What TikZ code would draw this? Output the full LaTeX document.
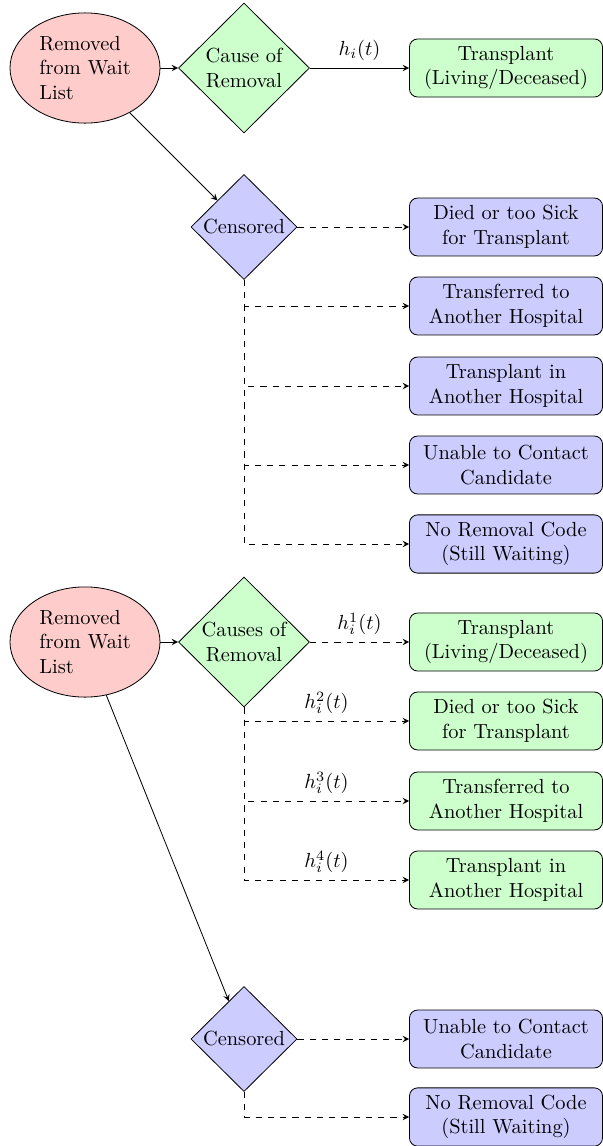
\documentclass[tikz,border=0pt]{standalone}
\usetikzlibrary{shapes.geometric}

\begin{document}
\begin{tikzpicture}[x=0.49pt, y=-0.49pt, >=stealth,
    startnode/.style={ellipse, draw, fill=red!20, align=left, inner sep=0pt,
        minimum width=73.5pt, minimum height=54pt},
    causenode/.style={diamond, draw, fill=green!20, align=center, inner sep=0pt,
        minimum width=64.2pt, minimum height=63.7pt},
    censnode/.style={diamond, draw, fill=blue!20, inner sep=0pt,
        minimum width=52pt, minimum height=51.5pt},
    outbox/.style={rectangle, draw, rounded corners, text width=86pt, align=center,
        inner xsep=4.3pt, inner ysep=3.5pt, minimum height=28.4pt},
    eventbox/.style={outbox, fill=green!20},
    censbox/.style={outbox, fill=blue!20}]
    \useasboundingbox (0,0) rectangle (603,1146);

    % one cause of removal
    \node[startnode] (rem1) at (85,68) {Removed\\from Wait\\List};
    \node[causenode] (cause1) at (244,68) {Cause of\\Removal};
    \node[censnode] (cens1) at (244,227) {Censored};

    \node[eventbox] (tx1) at (506,68) {Transplant\\(Living/Deceased)};
    \node[censbox] (died1) at (506,227) {Died or too Sick\\for Transplant};
    \node[censbox] (transf1) at (506,306) {Transferred to\\Another Hospital};
    \node[censbox] (txother1) at (506,386) {Transplant in\\Another Hospital};
    \node[censbox] (unable1) at (506,465) {Unable to Contact\\Candidate};
    \node[censbox] (nocode1) at (506,544) {No Removal Code\\(Still Waiting)};

    \draw[->] (rem1) -- (cause1);
    \draw[->] (rem1) -- (cens1);
    \draw[->] (cause1) -- node[above] (haz1) {$h_i(t)$} (tx1);
    \draw[->, dashed] (cens1) -- (died1);
    \foreach \b in {transf1, txother1, unable1, nocode1}
        \draw[->, dashed] (cens1.south) |- (\b.west);

    % competing causes of removal
    \node[startnode] (rem2) at (85,642) {Removed\\from Wait\\List};
    \node[causenode] (cause2) at (244,642) {Causes of\\Removal};
    \node[censnode] (cens2) at (244,1039) {Censored};

    \node[eventbox] (tx2) at (506,642) {Transplant\\(Living/Deceased)};
    \node[eventbox] (died2) at (506,721) {Died or too Sick\\for Transplant};
    \node[eventbox] (transf2) at (506,801) {Transferred to\\Another Hospital};
    \node[eventbox] (txother2) at (506,880) {Transplant in\\Another Hospital};
    \node[censbox] (unable2) at (506,1039) {Unable to Contact\\Candidate};
    \node[censbox] (nocode2) at (506,1117) {No Removal Code\\(Still Waiting)};

    \draw[->] (rem2) -- (cause2);
    \draw[->] (rem2) -- (cens2);
    \draw[->, dashed] (cause2) -- node[above] (haz21) {$h_i^1(t)$} (tx2);
    \foreach \b/\k in {died2/2, transf2/3, txother2/4}
        \draw[->, dashed] (cause2.south) |- node[pos=0.75, above] (haz2\k) {$h_i^{\k}(t)$} (\b.west);
    \draw[->, dashed] (cens2) -- (unable2);
    \draw[->, dashed] (cens2.south) |- (nocode2.west);
\end{tikzpicture}
\end{document}
